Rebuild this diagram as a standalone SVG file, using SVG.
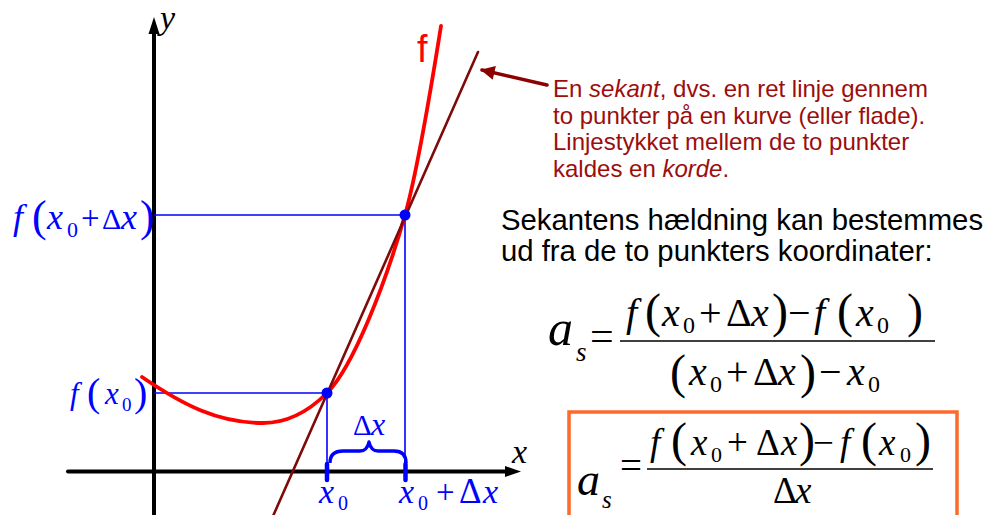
<svg xmlns="http://www.w3.org/2000/svg" width="988" height="515" viewBox="0 0 988 515">
<style>
.m{font-family:"Liberation Serif","Times New Roman",serif;}
.i{font-style:italic;}
.s{font-family:"Liberation Sans",Arial,sans-serif;}
.bl{fill:#0000FF;}
.guide{stroke:#0000FF;stroke-width:1.6;fill:none;}
.ax{stroke:#000;stroke-width:4;fill:none;}
.txt{fill:#9C0D0D;font-size:24px;}
</style>
<defs>
<marker id="ah" viewBox="0 0 10 10" refX="9" refY="5" markerWidth="4.2" markerHeight="4" orient="auto" markerUnits="strokeWidth">
<path d="M0,0 L10,5 L0,10 Z" fill="#8B0000"/>
</marker>
</defs>
<rect width="988" height="515" fill="#fff"/>

<g id="axes">
<line class="ax" x1="68" y1="471.5" x2="508" y2="471.5" stroke-linecap="round"/>
<polygon points="521,471.5 505,466 505,477" fill="#000"/>
<line class="ax" x1="154" y1="515" x2="154" y2="32"/>
<polygon points="154,17 148.5,34 159.5,34" fill="#000"/>
<text class="m i" x="512" y="463" font-size="34">x</text>
<text class="m i" x="160" y="29" font-size="34">y</text>
</g>

<g id="guides">
<line class="guide" x1="154" y1="215" x2="405" y2="215"/>
<line class="guide" x1="405" y1="215" x2="405" y2="471"/>
<line class="guide" x1="154" y1="393" x2="327" y2="393"/>
<line class="guide" x1="327" y1="393" x2="327" y2="471"/>
<line x1="327" y1="464" x2="327" y2="480" stroke="#0000FF" stroke-width="4.5" stroke-linecap="round"/>
<line x1="405.5" y1="464" x2="405.5" y2="480" stroke="#0000FF" stroke-width="4.5" stroke-linecap="round"/>
</g>

<g id="curve-f">
<path d="M142,377 C183,405 218,423 263,423 C284,423 306,414 327,393 C353,367 385,285 405,215 C417,173 430,95 441,26" fill="none" stroke="#FF0000" stroke-width="3.8" stroke-linecap="round"/>
<text class="s" x="417" y="62" font-size="38" fill="#FF0000">f</text>
</g>

<g id="secant">
<line x1="273.5" y1="515" x2="478" y2="52" stroke="#7F0A0A" stroke-width="2.6" stroke-linecap="round"/>
</g>

<g id="points">
<circle cx="327" cy="393" r="5.5" fill="#0000FF"/>
<circle cx="405" cy="215" r="5.5" fill="#0000FF"/>
</g>

<g id="brace">
<path d="M330,463 Q330,451 343,451 L360,451 Q367,451 369,442 Q371,451 378,451 L394,451 Q406,451 406,463" fill="none" stroke="#0000FF" stroke-width="3.4" stroke-linejoin="round"/>
<text class="m bl" y="435"><tspan x="353" font-size="29">Δ</tspan><tspan class="i" x="371" font-size="32">x</tspan></text>
</g>

<g id="label-fx0dx" class="m bl">
<text font-size="36" y="229"><tspan class="i" x="13">f</tspan><tspan x="32" font-size="44" y="231">(</tspan><tspan class="i" x="47" y="229">x</tspan><tspan x="67" y="237" font-size="22">0</tspan><tspan x="81" y="229" font-size="33">+</tspan><tspan x="102" font-size="30">Δ</tspan><tspan class="i" x="121" font-size="36">x</tspan><tspan x="140" font-size="44" y="231">)</tspan></text>
</g>

<g id="label-fx0" class="m bl">
<text font-size="31" y="404"><tspan class="i" x="70">f</tspan><tspan x="87" font-size="40" y="406">(</tspan><tspan class="i" x="105" y="404">x</tspan><tspan x="122" y="411" font-size="19">0</tspan><tspan x="134" font-size="40" y="406">)</tspan></text>
</g>

<g id="label-x0" class="m bl">
<text font-size="34" y="503"><tspan class="i" x="319">x</tspan><tspan x="338" y="510" font-size="20">0</tspan></text>
</g>

<g id="label-x0dx" class="m bl">
<text font-size="34" y="503"><tspan class="i" x="399">x</tspan><tspan x="418" y="510" font-size="20">0</tspan><tspan x="436" y="503" font-size="33">+</tspan><tspan x="459" font-size="35">Δ</tspan><tspan class="i" x="483">x</tspan></text>
</g>

<g id="connectors">
<line x1="547" y1="85" x2="482" y2="70" stroke="#8B0000" stroke-width="3.5" stroke-linecap="round" marker-end="url(#ah)"/>
</g>

<g id="sekant-note" class="s txt">
<text x="553" y="97">En <tspan font-style="italic">sekant</tspan>, dvs. en ret linje gennem</text>
<text x="553" y="123.5">to punkter på en kurve (eller flade).</text>
<text x="553" y="150">Linjestykket mellem de to punkter</text>
<text x="553" y="176.5">kaldes en <tspan font-style="italic">korde</tspan>.</text>
</g>

<g id="slope-note" class="s" font-size="29.3" fill="#000">
<text x="501" y="230">Sekantens hældning kan bestemmes</text>
<text x="501" y="261">ud fra de to punkters koordinater:</text>
</g>

<g id="formula1" class="m" fill="#000">
<text><tspan class="i" x="548" y="345" font-size="50">a</tspan><tspan class="i" x="576" y="361" font-size="27">s</tspan><tspan x="590" y="350" font-size="42">=</tspan></text>
<line x1="620" y1="341" x2="935" y2="341" stroke="#000" stroke-width="1.6"/>
<text font-size="40" y="326"><tspan class="i" x="626">f</tspan><tspan x="645" y="327" font-size="48">(</tspan><tspan class="i" x="662" y="326">x</tspan><tspan x="683" y="333" font-size="24">0</tspan><tspan x="699" y="326">+</tspan><tspan x="726">Δ</tspan><tspan class="i" x="751">x</tspan><tspan x="772" y="327" font-size="48">)</tspan><tspan x="788" y="326">−</tspan><tspan class="i" x="814">f</tspan><tspan x="837" y="327" font-size="48">(</tspan><tspan class="i" x="856" y="326">x</tspan><tspan x="877" y="333" font-size="24">0</tspan><tspan x="907" y="327" font-size="48">)</tspan></text>
<text font-size="40" y="385"><tspan x="670" y="388" font-size="48">(</tspan><tspan class="i" x="689" y="385">x</tspan><tspan x="710" y="392" font-size="24">0</tspan><tspan x="726" y="385">+</tspan><tspan x="753">Δ</tspan><tspan class="i" x="778">x</tspan><tspan x="800" y="388" font-size="48">)</tspan><tspan x="819" y="385">−</tspan><tspan class="i" x="847">x</tspan><tspan x="868" y="392" font-size="24">0</tspan></text>
</g>

<g id="formula2" class="m" fill="#000">
<rect x="569" y="412" width="388" height="110" fill="none" stroke="#FF6A2A" stroke-width="3.5"/>
<text><tspan class="i" x="577" y="495" font-size="46">a</tspan><tspan class="i" x="602" y="508" font-size="25">s</tspan><tspan x="620" y="479" font-size="39">=</tspan></text>
<line x1="647" y1="469" x2="933" y2="469" stroke="#000" stroke-width="1.6"/>
<text font-size="37" y="455"><tspan class="i" x="650">f</tspan><tspan x="671" y="456" font-size="48">(</tspan><tspan class="i" x="691" y="455">x</tspan><tspan x="711" y="462" font-size="22">0</tspan><tspan x="727" y="455">+</tspan><tspan x="756">Δ</tspan><tspan class="i" x="781">x</tspan><tspan x="799" y="456" font-size="48">)</tspan><tspan x="813" y="455">−</tspan><tspan class="i" x="840">f</tspan><tspan x="861" y="456" font-size="48">(</tspan><tspan class="i" x="879" y="455">x</tspan><tspan x="900" y="462" font-size="22">0</tspan><tspan x="915" y="456" font-size="48">)</tspan></text>
<text font-size="37" y="503"><tspan x="773">Δ</tspan><tspan class="i" x="795">x</tspan></text>
</g>
</svg>
